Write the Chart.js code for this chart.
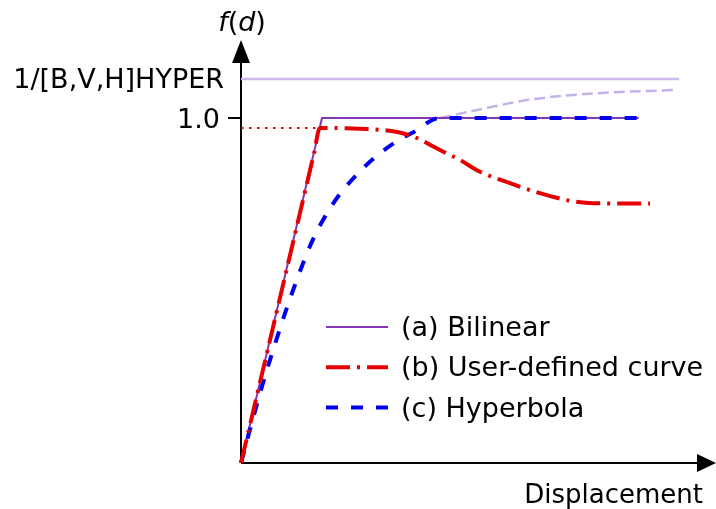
<!DOCTYPE html>
<html>
<head>
<meta charset="utf-8">
<script src="https://cdn.jsdelivr.net/npm/chart.js@4/dist/chart.umd.min.js"></script>
<style>
  html, body { margin: 0; padding: 0; background: #fff; }
  #wrap { width: 716px; height: 509px; position: relative; }
</style>
</head>
<body>
<div id="wrap"><canvas id="curveChart"></canvas></div>
<script>
// axis ranges (d in units of yield displacement, f normalised to 1.0)
const xMax = 5.864;
const yMax = 1.226;

// tick labels on the f(d) axis
const yTickValues = [1.0, 1.113];
const yTickLabels = ['1.0', '1/[B,V,H]HYPER'];
const xTitle = 'Displacement';

// (a) bilinear
const bilinearX = [0, 1, 4.91];
const bilinearY = [0, 1, 1];

// (b) user-defined curve
const userX = [0, 0.9, 0.975, 1.469, 1.914, 2.127, 2.457, 2.704, 2.951, 3.321, 3.691, 4.062, 4.35, 5.05];
const userY = [0, 0.896, 0.971, 0.969, 0.96, 0.946, 0.907, 0.878, 0.844, 0.811, 0.782, 0.76, 0.753, 0.752];
// dotted level of the user curve
const userLevelX = [0, 0.975];
const userLevelY = [0.971, 0.971];

// (c) hyperbola, capped at 1.0
const hyperX = [0, 0.12, 0.259, 0.362, 0.457, 0.552, 0.663, 0.765, 0.889, 1.041, 1.219, 1.423, 1.633, 1.922, 2.123, 2.457, 4.914];
const hyperY = [0, 0.105, 0.222, 0.302, 0.372, 0.44, 0.514, 0.578, 0.648, 0.716, 0.779, 0.834, 0.882, 0.932, 0.958, 1.0, 1.0];
// uncapped hyperbola and its asymptote
const hyperRestX = [2.457, 3.115, 3.527, 4.349, 5.337];
const hyperRestY = [1.0, 1.033, 1.052, 1.071, 1.081];
const asymX = [0, 5.41];
const asymY = [1.113, 1.113];

const legendNames = ['(a) Bilinear', '(b) User-defined curve', '(c) Hyperbola'];

const FONT = '"DejaVu Sans", Verdana, sans-serif';

function pts(xs, ys) {
    return xs.map((x, i) => ({ x: x, y: ys[i] }));
}

const sketchPlugin = {
    id: 'sketchAxes',
    beforeDatasetsDraw(chart) {
        const { ctx, scales: { x, y } } = chart;
        const x0 = x.getPixelForValue(0), y0 = y.getPixelForValue(0);
        const xEnd = x.getPixelForValue(xMax), yEnd = y.getPixelForValue(yMax);
        ctx.save();
        ctx.strokeStyle = '#000';
        ctx.fillStyle = '#000';
        ctx.lineWidth = 2;
        ctx.beginPath();
        ctx.moveTo(x0, y0); ctx.lineTo(xEnd - 10, y0);
        ctx.moveTo(x0, y0); ctx.lineTo(x0, yEnd + 10);
        ctx.stroke();
        // arrow heads
        ctx.beginPath();
        ctx.moveTo(x0, yEnd); ctx.lineTo(x0 - 9, yEnd + 23); ctx.lineTo(x0 + 9, yEnd + 23);
        ctx.closePath(); ctx.fill();
        ctx.beginPath();
        ctx.moveTo(xEnd, y0); ctx.lineTo(xEnd - 19, y0 - 9); ctx.lineTo(xEnd - 19, y0 + 9);
        ctx.closePath(); ctx.fill();
        // tick on 1.0 only
        const ty = y.getPixelForValue(yTickValues[0]);
        ctx.beginPath(); ctx.moveTo(x0 - 13, ty); ctx.lineTo(x0, ty); ctx.stroke();
        ctx.restore();
    },
    afterDraw(chart) {
        const { ctx, scales: { x, y } } = chart;
        const x0 = x.getPixelForValue(0), y0 = y.getPixelForValue(0);
        const xEnd = x.getPixelForValue(xMax), yEnd = y.getPixelForValue(yMax);
        ctx.save();
        ctx.fillStyle = '#000';
        ctx.font = '27px ' + FONT;
        ctx.textBaseline = 'alphabetic';
        ctx.textAlign = 'right';
        ctx.fillText(yTickLabels[0], x0 - 21, y.getPixelForValue(yTickValues[0]) + 10);
        ctx.fillText(yTickLabels[1], x0 - 17, y.getPixelForValue(yTickValues[1]) + 9.5);
        ctx.font = '26px ' + FONT;
        ctx.fillText(xTitle, xEnd - 13, y0 + 40);

        // f(d) with italic letters
        const parts = [['f', true], ['(', false], ['d', true], [')', false]];
        ctx.textAlign = 'left';
        let w = 0;
        parts.forEach(p => {
            ctx.font = (p[1] ? 'italic ' : '') + '27px ' + FONT;
            w += ctx.measureText(p[0]).width;
        });
        let cx = x0 - w / 2 + 1;
        parts.forEach(p => {
            ctx.font = (p[1] ? 'italic ' : '') + '27px ' + FONT;
            ctx.fillText(p[0], cx, yEnd - 9);
            cx += ctx.measureText(p[0]).width;
        });

        // legend
        const items = chart.data.datasets.filter(d => d.legendRow !== undefined);
        items.sort((a, b) => a.legendRow - b.legendRow);
        ctx.font = '27px ' + FONT;
        items.forEach(d => {
            const ly = 327 + d.legendRow * 40.3;
            ctx.save();
            ctx.strokeStyle = d.borderColor;
            ctx.lineWidth = d.borderWidth;
            ctx.setLineDash(d.borderDash || []);
            ctx.beginPath(); ctx.moveTo(326, ly); ctx.lineTo(388, ly); ctx.stroke();
            ctx.restore();
            ctx.fillText(legendNames[d.legendRow], 401, ly + 9);
        });
        ctx.restore();
    }
};

const lineBase = { showLine: true, pointRadius: 0, pointHoverRadius: 0, fill: false, clip: 12 };

new Chart(document.getElementById('curveChart'), {
    type: 'scatter',
    data: {
        datasets: [
            Object.assign({}, lineBase, {
                label: legendNames[1], legendRow: 1, order: 1,
                data: pts(userX, userY),
                borderColor: '#e60000', borderWidth: 4,
                borderDash: [24, 7, 3, 7], cubicInterpolationMode: 'monotone'
            }),
            Object.assign({}, lineBase, {
                label: legendNames[2], legendRow: 2, order: 2,
                data: pts(hyperX, hyperY),
                borderColor: '#0000f0', borderWidth: 4,
                borderDash: [12, 13], cubicInterpolationMode: 'monotone'
            }),
            Object.assign({}, lineBase, {
                label: 'level', order: 3,
                data: pts(userLevelX, userLevelY),
                borderColor: '#e60000', borderWidth: 2,
                borderDash: [2.5, 5.5]
            }),
            Object.assign({}, lineBase, {
                label: legendNames[0], legendRow: 0, order: 4,
                data: pts(bilinearX, bilinearY),
                borderColor: '#8535b5', borderWidth: 2
            }),
            Object.assign({}, lineBase, {
                label: 'hyperbola (uncapped)', order: 5,
                data: pts(hyperRestX, hyperRestY),
                borderColor: '#c6b2ea', borderWidth: 2.5,
                borderDash: [11, 5], cubicInterpolationMode: 'monotone'
            }),
            Object.assign({}, lineBase, {
                label: 'asymptote', order: 6,
                data: pts(asymX, asymY),
                borderColor: '#cdb9ee', borderWidth: 2.5
            })
        ]
    },
    options: {
        responsive: true,
        maintainAspectRatio: false,
        devicePixelRatio: 1,
        animation: false,
        layout: { padding: { left: 241, right: 0, top: 40, bottom: 46 } },
        plugins: { legend: { display: false }, tooltip: { enabled: false } },
        scales: {
            x: { type: 'linear', min: 0, max: xMax, display: false },
            y: { type: 'linear', min: 0, max: yMax, display: false }
        }
    },
    plugins: [sketchPlugin]
});
</script>
</body>
</html>
